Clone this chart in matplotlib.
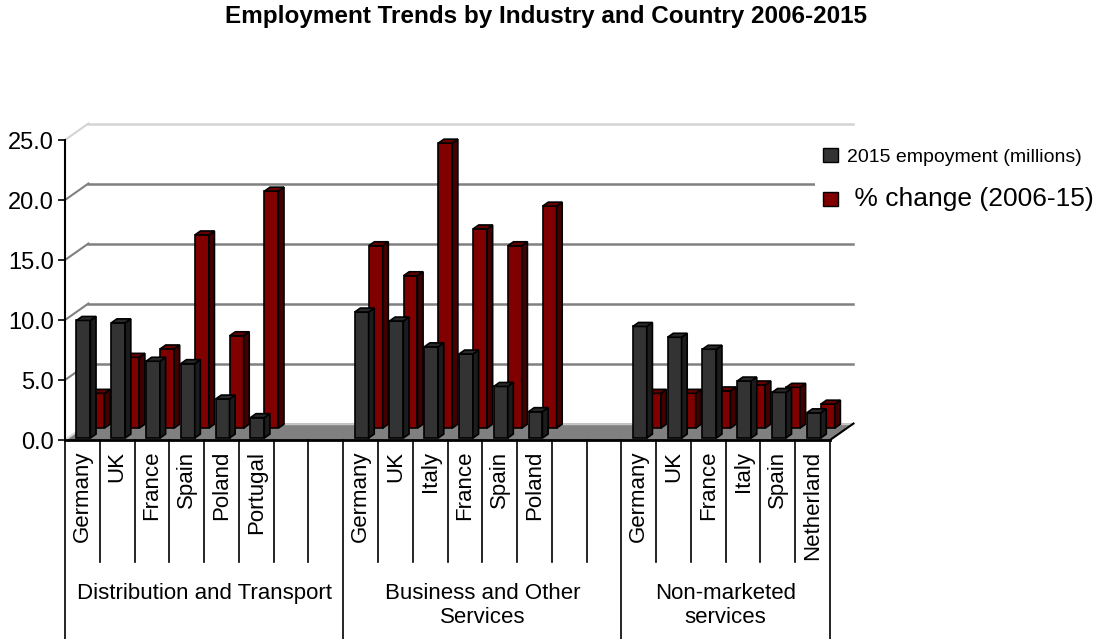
import numpy as np
import matplotlib.pyplot as plt
from matplotlib.patches import Polygon, Patch

plt.rcParams['font.family'] = ['Liberation Sans', 'DejaVu Sans']

# 行业分组
groups = ['Distribution and Transport', 'Business and Other\nServices', 'Non-marketed\nservices']
group_slots = [8, 8, 6]

# Distribution and Transport
dist_countries = ['Germany', 'UK', 'France', 'Spain', 'Poland', 'Portugal']
dist_emp = [9.8, 9.6, 6.4, 6.2, 3.25, 1.7]
dist_chg = [2.9, 5.9, 6.6, 16.1, 7.7, 19.75]

# Business and Other Services
bus_countries = ['Germany', 'UK', 'Italy', 'France', 'Spain', 'Poland']
bus_emp = [10.5, 9.75, 7.6, 7.0, 4.3, 2.2]
bus_chg = [15.2, 12.7, 23.75, 16.6, 15.2, 18.5]

# Non-marketed services
nm_countries = ['Germany', 'UK', 'France', 'Italy', 'Spain', 'Netherland']
nm_emp = [9.3, 8.4, 7.4, 4.75, 3.8, 2.1]
nm_chg = [2.9, 2.9, 3.1, 3.6, 3.4, 2.0]

y_ticks = [0, 5, 10, 15, 20, 25]
emp_label = '2015 empoyment (millions)'
chg_label = ' % change (2006-15)'

# 伪3D 的深度偏移 (x 单位: 类别格, y 单位: 数值)
DX = 0.675
DY = 1.375
BAR_OFF = 0.25
BAR_W = 0.40

dark = ('#333333', '#1c1c1c', '#2a2a2a')
red = ('#800000', '#420000', '#660000')

# 每个国家所在的格子位置
countries = []
x_pos = []
emp = []
chg = []
start = 0
for g, cs, e, c in zip(range(3), [dist_countries, bus_countries, nm_countries],
                       [dist_emp, bus_emp, nm_emp], [dist_chg, bus_chg, nm_chg]):
    for j in range(len(cs)):
        countries.append(cs[j])
        x_pos.append(start + j)
        emp.append(e[j])
        chg.append(c[j])
    start += group_slots[g]
n_slots = start
x_pos = np.array(x_pos, dtype=float)


def draw_bars(ax, xs, vals, d0, dd, colors, z):
    face, side, top = colors
    left = xs + BAR_OFF + d0 * DX
    base = d0 * DY
    bars = ax.bar(left, vals, BAR_W, bottom=base, align='edge', color=face,
                  edgecolor='black', linewidth=1.2, zorder=z)
    for b in bars:
        b.set_clip_on(False)
    for x, v in zip(left, vals):
        r = x + BAR_W
        ax.add_patch(Polygon([(r, base), (r + dd * DX, base + dd * DY),
                              (r + dd * DX, base + v + dd * DY), (r, base + v)],
                             closed=True, fc=side, ec='black', lw=1.2, zorder=z, clip_on=False))
        ax.add_patch(Polygon([(x, base + v), (r, base + v),
                              (r + dd * DX, base + v + dd * DY), (x + dd * DX, base + v + dd * DY)],
                             closed=True, fc=top, ec='black', lw=1.2, zorder=z, clip_on=False))


fig = plt.figure(figsize=(10.94, 6.39), dpi=100)
ax = fig.add_axes([0.0594, 0.3114, 0.6993, 0.4695])
ax.set_xlim(0, n_slots)
ax.set_ylim(0, 25)

# 背景网格线
for v in y_ticks[1:]:
    c = '#d4d4d4' if v == 25 else '#808080'
    ax.plot([0, DX], [v, v + DY], color=c, lw=1.5, clip_on=False, zorder=1)
    ax.plot([DX, n_slots + DX], [v + DY, v + DY], color=c, lw=1.8, clip_on=False, zorder=1)

# 底面
ax.add_patch(Polygon([(0, 0), (n_slots, 0), (n_slots + DX, DY), (DX, DY)],
                     closed=True, fc='#808080', ec='none', zorder=2, clip_on=False))
ax.plot([DX, n_slots + DX], [DY, DY], color='#c8c8c8', lw=1, clip_on=False, zorder=2)
ax.plot([0, DX], [0, DY], color='#d8d8d8', lw=1.5, clip_on=False, zorder=2)
ax.plot([n_slots, n_slots + DX], [0, DY], color='black', lw=1.5, clip_on=False, zorder=2)

# 柱子: 先画后排红色, 再画前排黑色
draw_bars(ax, x_pos, chg, 0.72, 0.24, red, 3)
draw_bars(ax, x_pos, emp, 0.12, 0.24, dark, 4)

# 坐标轴
for s in ['top', 'right']:
    ax.spines[s].set_visible(False)
ax.spines['left'].set_linewidth(1.5)
ax.spines['bottom'].set_linewidth(2)
ax.spines['left'].set_zorder(5)
ax.spines['bottom'].set_zorder(5)
ax.set_xticks([])
ax.set_yticks(y_ticks)
ax.set_yticklabels(['%.1f' % v for v in y_ticks])
ax.tick_params(axis='y', length=5, width=1.2, labelsize=17, pad=3)
ax.patch.set_visible(False)

# 类别标签和分隔线
tr = ax.get_xaxis_transform()
for x, name in zip(x_pos, countries):
    ax.text(x + 0.5, -0.035, name, rotation=90, ha='center', va='top',
            fontsize=16, transform=tr)
start = 0
for g, n in enumerate(group_slots):
    for k in range(1, n):
        ax.plot([start + k, start + k], [0, -0.407], color='black', lw=1.2,
                transform=tr, clip_on=False)
    ax.plot([start, start], [0, -0.67], color='black', lw=1.2, transform=tr, clip_on=False)
    ax.text(start + n / 2, -0.477, groups[g], ha='center', va='top', fontsize=16,
            linespacing=1.2, transform=tr)
    start += n
ax.plot([n_slots, n_slots], [0, -0.67], color='black', lw=1.2, transform=tr, clip_on=False)

# 图例
handles = [Patch(facecolor=dark[0], edgecolor='black'), Patch(facecolor=red[0], edgecolor='black')]
leg = fig.legend(handles, [emp_label, chg_label], loc='upper left',
                 bbox_to_anchor=(815 / 1094, 1 - 140 / 639), fontsize=14,
                 frameon=True, fancybox=False, framealpha=1, facecolor='white',
                 edgecolor='none', handlelength=0.8, handleheight=0.75,
                 handletextpad=0.45, labelspacing=1.1, borderaxespad=0)
leg.set_zorder(10)
leg.get_texts()[1].set_fontsize(19)

fig.text(546 / 1094, 1 - 23 / 639, 'Employment Trends by Industry and Country 2006-2015',
         ha='center', va='baseline', fontsize=17.5, fontweight='bold')

plt.savefig('out.png', dpi=100)
